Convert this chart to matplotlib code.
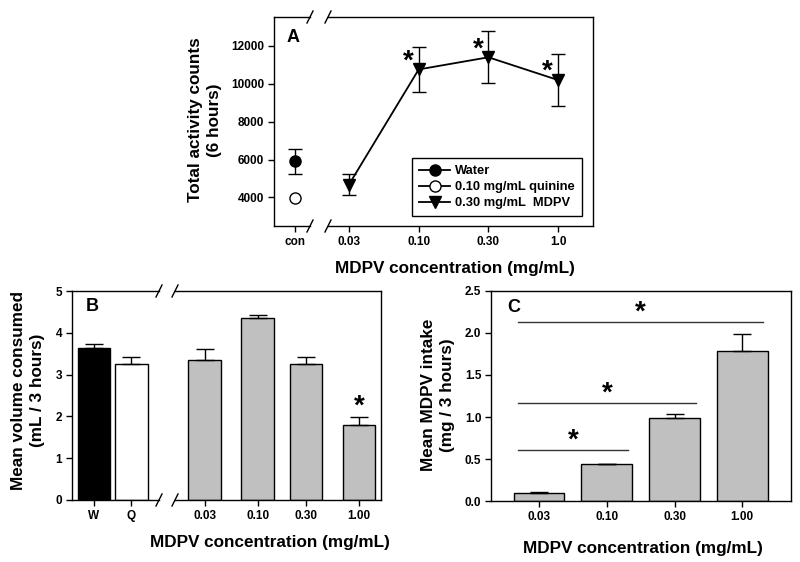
import numpy as np
import matplotlib
matplotlib.use('Agg')
import matplotlib.pyplot as plt

plt.rcParams['font.family'] = ['Liberation Sans', 'DejaVu Sans']
plt.rcParams['font.weight'] = 'bold'
plt.rcParams['axes.labelweight'] = 'bold'

# ---- data ----
# panel A: activity counts
con_water, con_water_sem = 5910, 660
con_quinine, con_quinine_sem = 3980, 100
a_labels = ['0.03', '0.10', '0.30', '1.0']
a_counts = [4680, 10740, 11380, 10180]
a_sem = [565, 1185, 1375, 1380]
a_sig = [False, True, True, True]

# panel B: volume consumed
b_labels = ['W', 'Q', '0.03', '0.10', '0.30', '1.00']
b_means = [3.63, 3.25, 3.34, 4.35, 3.25, 1.79]
b_sem = [0.11, 0.17, 0.27, 0.08, 0.17, 0.20]
b_sig = [False, False, False, False, False, True]

# panel C: MDPV intake
c_labels = ['0.03', '0.10', '0.30', '1.00']
c_means = [0.10, 0.435, 0.985, 1.79]
c_sem = [0.012, 0.01, 0.055, 0.20]
c_brackets = [(0, 1, 0.61), (0, 2, 1.17), (0, 3, 2.13)]  # from, to, height

# ---- layout ----
W, H = 800, 562
fig = plt.figure(figsize=(W / 100, H / 100), dpi=100)


def rect(l, r, t, b):
    return [l / W, 1 - b / H, (r - l) / W, (b - t) / H]


def ticks(ax):
    ax.tick_params(direction='out', length=4, width=1, labelsize=8.5, pad=3)
    for s in ax.spines.values():
        s.set_linewidth(1)


def broken_frame(ax, x1, x2, pw, ph):
    # top/bottom spines with a gap between x1 and x2 (axes fraction)
    ax.spines['top'].set_visible(False)
    ax.spines['bottom'].set_visible(False)
    dx, dy = 3.0 / pw, 6.0 / ph
    for y in (0, 1):
        ax.plot([0, x1], [y, y], color='k', lw=1, transform=ax.transAxes, clip_on=False)
        ax.plot([x2, 1], [y, y], color='k', lw=1, transform=ax.transAxes, clip_on=False)
        for x in (x1, x2):
            ax.plot([x - dx, x + dx], [y - dy, y + dy], color='k', lw=1,
                    transform=ax.transAxes, clip_on=False)


# ---- panel A ----
axA = fig.add_axes(rect(274, 593, 17, 226))
a_x = 0.775 + np.arange(len(a_labels))
axA.errorbar([0], [con_water], yerr=[con_water_sem], fmt='none', ecolor='k',
             elinewidth=1, capsize=5, capthick=1)
axA.errorbar(a_x, a_counts, yerr=a_sem, fmt='none', ecolor='k',
             elinewidth=1, capsize=5, capthick=1)
axA.plot([0], [con_water], marker='o', color='k', ms=8, ls='-', lw=1.3, label='Water')
axA.plot([0], [con_quinine], marker='o', color='k', mfc='white', ms=8, ls='-', lw=1.3,
         label='0.10 mg/mL quinine')
axA.plot(a_x, a_counts, marker='v', color='k', ms=9, ls='-', lw=1.3,
         label='0.30 mg/mL  MDPV')
for x, y, s in zip(a_x, a_counts, a_sig):
    if s:
        axA.text(x - 0.15, y + 420, '*', ha='center', va='center', fontsize=20)
axA.set_xlim(-0.30, 4.275)
axA.set_ylim(2500, 13500)
axA.set_xticks([0] + list(a_x))
axA.set_xticklabels(['con'] + a_labels)
axA.set_yticks(np.arange(4000, 12001, 2000))
ticks(axA)
broken_frame(axA, 36 / 319, 54 / 319, 319, 209)
axA.text(0.06, 0.90, 'A', transform=axA.transAxes, fontsize=13, ha='center', va='center')
leg = axA.legend(loc='upper left', bbox_to_anchor=(0.4326, 0.325), borderaxespad=0,
                 fontsize=9.3, frameon=True, fancybox=False, edgecolor='k',
                 framealpha=1, handlelength=2.4, handletextpad=0.4,
                 labelspacing=0.3, borderpad=0.55)
leg.get_frame().set_linewidth(1)
fig.text(455 / W, 1 - 268 / H, 'MDPV concentration (mg/mL)', ha='center', va='center',
         fontsize=12.3)
fig.text(205 / W, 1 - 120 / H, 'Total activity counts\n(6 hours)', ha='center',
         va='center', rotation=90, fontsize=12.3, linespacing=1.35)

# ---- panel B ----
axB = fig.add_axes(rect(72, 381, 291, 500))
b_x = [0, 0.70, 2.09, 3.09, 4.0, 5.0]
b_colors = ['black', 'white'] + ['#c0c0c0'] * 4
axB.bar(b_x, b_means, width=0.62, color=b_colors, edgecolor='k', linewidth=1,
        yerr=[np.zeros(len(b_sem)), b_sem], ecolor='k',
        error_kw=dict(elinewidth=1, capsize=6.5, capthick=1))
for x, y, e, s in zip(b_x, b_means, b_sem, b_sig):
    if s:
        axB.text(x, y + e + 0.25, '*', ha='center', va='center', fontsize=20)
axB.set_xlim(-0.415, 5.415)
axB.set_ylim(0, 5)
axB.set_xticks(b_x)
axB.set_xticklabels(b_labels)
axB.set_yticks(range(0, 6))
ticks(axB)
broken_frame(axB, 87 / 309, 103 / 309, 309, 209)
axB.text(0.065, 0.925, 'B', transform=axB.transAxes, fontsize=13, ha='center', va='center')
fig.text(270 / W, 1 - 543 / H, 'MDPV concentration (mg/mL)', ha='center', va='center',
         fontsize=12.3)
fig.text(28 / W, 1 - 390 / H, 'Mean volume consumed\n(mL / 3 hours)', ha='center',
         va='center', rotation=90, fontsize=12.3, linespacing=1.35)

# ---- panel C ----
axC = fig.add_axes(rect(491, 791, 291, 501))
c_x = np.arange(len(c_labels))
axC.bar(c_x, c_means, width=0.75, color='#c0c0c0', edgecolor='k', linewidth=1,
        yerr=[np.zeros(len(c_sem)), c_sem], ecolor='k',
        error_kw=dict(elinewidth=1, capsize=6.5, capthick=1))
for i0, i1, h in c_brackets:
    x0, x1 = c_x[i0] - 0.31, c_x[i1] + 0.31
    axC.plot([x0, x1], [h, h], color='#333333', lw=1)
    axC.text((x0 + x1) / 2, h + 0.11, '*', ha='center', va='center', fontsize=20)
axC.set_xlim(-0.71, 3.72)
axC.set_ylim(0, 2.5)
axC.set_xticks(c_x)
axC.set_xticklabels(c_labels)
axC.set_yticks(np.arange(0, 2.51, 0.5))
axC.set_yticklabels(['%.1f' % v for v in np.arange(0, 2.51, 0.5)])
ticks(axC)
axC.text(0.075, 0.92, 'C', transform=axC.transAxes, fontsize=13, ha='center', va='center')
fig.text(643 / W, 1 - 548 / H, 'MDPV concentration (mg/mL)', ha='center', va='center',
         fontsize=12.3)
fig.text(438 / W, 1 - 395 / H, 'Mean MDPV intake\n(mg / 3 hours)', ha='center',
         va='center', rotation=90, fontsize=12.3, linespacing=1.35)

fig.savefig('out.png', dpi=100)
